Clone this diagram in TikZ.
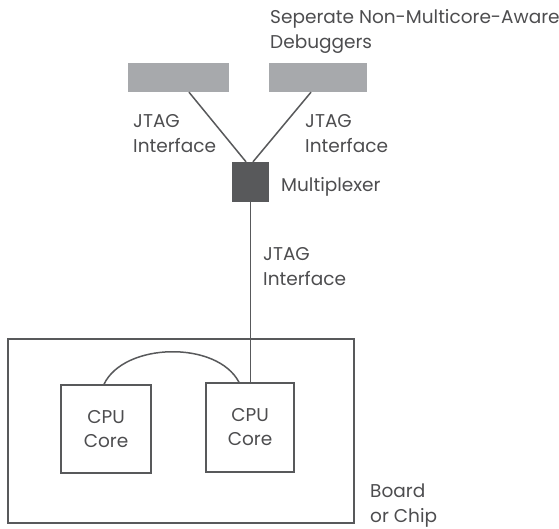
\documentclass[tikz,border=0pt]{standalone}
\usepackage{fontspec}
\setmainfont{Poppins}
\usetikzlibrary{calc}
\definecolor{ink}{HTML}{4D4D4F}
\definecolor{wire}{HTML}{58595B}
\definecolor{dbgfill}{HTML}{A7A9AC}
\definecolor{muxfill}{HTML}{58595B}
\tikzset{
  label text/.style={anchor=base west, inner sep=0pt, align=left, text=ink,
    font=\fontsize{18.5}{25}\selectfont},
  debugger/.style={fill=dbgfill, draw=none, inner sep=0pt},
  muxbox/.style={fill=muxfill, draw=none, inner sep=0pt, minimum width=37pt, minimum height=40pt},
  corebox/.style={draw=wire, line width=1.5pt, inner sep=0pt, align=center, text=ink,
    font=\fontsize{18.5}{24}\selectfont},
  wireline/.style={draw=wire, line width=1.5pt},
}
\begin{document}
\begin{tikzpicture}[x=1pt, y=-1pt]
  \useasboundingbox (0,0) rectangle (559,529);

  % board outline
  \node[draw=wire, line width=1.5pt, minimum width=346pt, minimum height=184pt, inner sep=0pt]
    (board) at (181,431) {};

  % debuggers and multiplexer
  \node[debugger, minimum width=101pt, minimum height=29pt] (dbgL) at (178.5,77.5) {};
  \node[debugger, minimum width=98pt, minimum height=29pt] (dbgR) at (318,77.5) {};
  \node[muxbox] (mux) at (250.5,182) {};

  % CPU cores
  \node[corebox, minimum width=90pt, minimum height=88pt] (cpuL) at (106,429) {CPU\\Core};
  \node[corebox, minimum width=88pt, minimum height=89pt] (cpuR) at (250,427.5) {CPU\\Core};

  % JTAG links
  \draw[wireline] ([xshift=10.5pt]dbgL.south) -- ([xshift=-4.5pt]mux.north);
  \draw[wireline] ([xshift=-7pt]dbgR.south) -- ([xshift=2.5pt]mux.north);
  \draw[wireline] (mux.south) -- (mux.south |- cpuR.north);

  % link between the cores
  \coordinate (arcA) at ([xshift=-2pt]cpuL.north);
  \coordinate (arcB) at ([xshift=-11pt]cpuR.north);
  \draw[wireline] (arcA) .. controls ($(arcA)+(20,-42)$) and ($(arcB)+(-22,-42)$) .. (arcB);

  % labels (anchored at the baseline of their last line)
  \node[label text] (tDbg) at (270,49) {Seperate Non-Multicore-Aware\\Debuggers};
  \node[label text] (tJL) at (133,153) {JTAG\\Interface};
  \node[label text] (tJR) at (305,153) {JTAG\\Interface};
  \node[label text] (tMux) at (281,192) {Multiplexer};
  \node[label text] (tJM) at (263,285) {JTAG\\Interface};
  \node[label text] (tBoard) at (370,522) {Board\\or Chip};
\end{tikzpicture}
\end{document}
